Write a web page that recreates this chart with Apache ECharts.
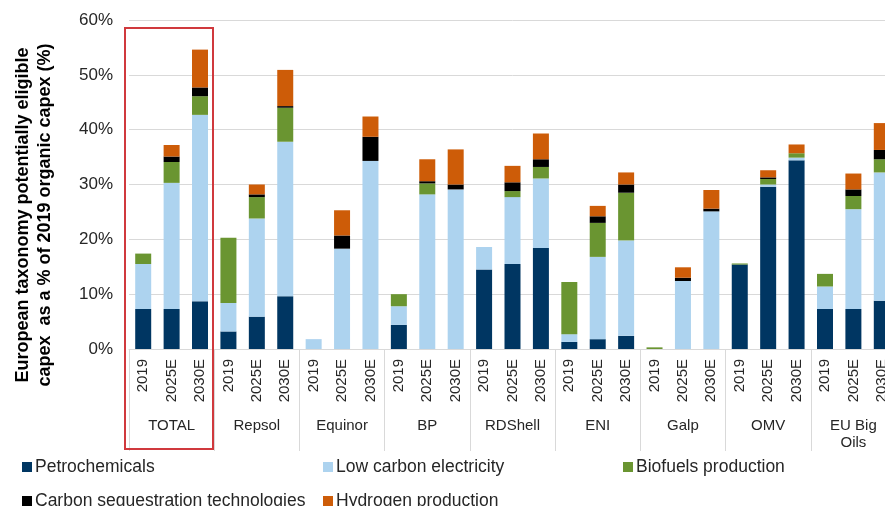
<!DOCTYPE html>
<html>
<head>
<meta charset="utf-8">
<script src="https://cdn.jsdelivr.net/npm/echarts@6/dist/echarts.min.js"></script>
<style>
  html, body { margin: 0; padding: 0; background: #fff; overflow: hidden; width: 885px; height: 506px; }
  #chart { width: 900px; height: 506px; }
</style>
</head>
<body>
<div id="chart"></div>
<script>
const groups = ['TOTAL', 'Repsol', 'Equinor', 'BP', 'RDShell', 'ENI', 'Galp', 'OMV', 'EU Big\nOils'];
const years = ['2019', '2025E', '2030E'];
const yTicks = [0, 10, 20, 30, 40, 50, 60];

const petrochemicals = [7.3, 7.3, 8.7, 3.2, 5.9, 9.6, 0, 0, 0, 4.4, 0, 0, 14.5, 15.5, 18.4, 1.3, 1.8, 2.4, 0, 0, 0, 15.4, 29.6, 34.4, 7.3, 7.3, 8.8];
const lowCarbonElectricity = [8.2, 23.0, 34.0, 5.2, 17.9, 28.2, 1.8, 18.3, 34.3, 3.4, 28.2, 29.1, 4.1, 12.2, 12.7, 1.4, 15.0, 17.4, 0, 12.4, 25.1, 0, 0.4, 0.5, 4.1, 18.2, 23.4];
const biofuels = [1.9, 3.8, 3.4, 11.9, 3.9, 6.2, 0, 0, 0, 2.2, 2.0, 0, 0, 1.1, 2.1, 9.5, 6.2, 8.7, 0.3, 0, 0, 0.2, 1.0, 0.8, 2.3, 2.4, 2.4];
const carbonSeq = [0, 1.0, 1.6, 0, 0.5, 0.3, 0, 2.4, 4.4, 0, 0.4, 0.9, 0, 1.6, 1.4, 0, 1.2, 1.5, 0, 0.6, 0.5, 0, 0.3, 0, 0, 1.2, 1.7];
const hydrogen = [0, 2.1, 6.9, 0, 1.8, 6.6, 0, 4.6, 3.7, 0, 4.0, 6.4, 0, 3.0, 4.7, 0, 1.9, 2.2, 0, 1.9, 3.4, 0, 1.3, 1.6, 0, 2.9, 4.9];

const seriesNames = ['Petrochemicals', 'Low carbon electricity', 'Biofuels production', 'Carbon sequestration technologies', 'Hydrogen production'];
const seriesData = [petrochemicals, lowCarbonElectricity, biofuels, carbonSeq, hydrogen];
const colors = ['#003662', '#ADD3EF', '#6A9531', '#000000', '#CD5C08'];

const cats = [];
groups.forEach((g, gi) => years.forEach(y => cats.push(gi + '|' + y)));

const FONT = '"Liberation Sans", Arial, sans-serif';
const TXT = '#262626';

const chart = echarts.init(document.getElementById('chart'), null, { renderer: 'canvas' });

const legendPos = [[22, 458], [323, 458], [623, 458], [22, 492], [323, 492]];
const legends = seriesNames.map((n, i) => ({
  data: [n],
  left: legendPos[i][0],
  top: legendPos[i][1],
  padding: 0,
  icon: 'rect',
  itemWidth: 10,
  itemHeight: 10,
  selectedMode: false,
  textStyle: { fontSize: 17.5, color: TXT, fontFamily: FONT, padding: [0, 0, 0, -2] }
}));

chart.setOption({
  animation: false,
  backgroundColor: '#ffffff',
  color: colors,
  textStyle: { fontFamily: FONT },
  legend: legends,
  grid: { left: 129, top: 20, width: 767, height: 329, containLabel: false },
  xAxis: [
    {
      type: 'category',
      data: cats,
      position: 'bottom',
      axisLine: { show: true, lineStyle: { color: '#D9D9D9', width: 1 } },
      axisTick: { show: false },
      axisLabel: {
        interval: 0, rotate: 90, margin: 10, fontSize: 15, color: TXT, fontFamily: FONT,
        formatter: v => v.split('|')[1]
      },
      splitLine: { show: false }
    },
    {
      type: 'category',
      data: groups,
      position: 'bottom',
      axisLine: { show: false },
      axisTick: { show: true, interval: 0, length: 102, lineStyle: { color: '#D9D9D9', width: 1 } },
      axisLabel: { interval: 0, margin: 68, fontSize: 15, color: TXT, fontFamily: FONT, lineHeight: 17, align: 'center' },
      splitLine: { show: false }
    }
  ],
  yAxis: {
    type: 'value',
    min: yTicks[0],
    max: yTicks[yTicks.length - 1],
    interval: 10,
    axisLine: { show: false },
    axisTick: { show: false },
    axisLabel: { formatter: '{value}%', fontSize: 17, color: TXT, margin: 16, fontFamily: FONT },
    splitLine: { lineStyle: { color: '#D9D9D9', width: 1 } }
  },
  series: seriesNames.map((n, i) => ({
    name: n,
    type: 'bar',
    stack: 'total',
    xAxisIndex: 0,
    barWidth: 16,
    data: seriesData[i],
    itemStyle: { color: colors[i] }
  })),
  graphic: [
    {
      type: 'text',
      x: 34, y: 215,
      rotation: Math.PI / 2,
      style: {
        text: 'European taxonomy potentially eligible\ncapex  as a % of 2019 organic capex (%)',
        font: 'bold 18px "Liberation Sans", Arial, sans-serif',
        align: 'center',
        verticalAlign: 'middle',
        lineHeight: 22,
        fill: '#000'
      }
    },
    {
      type: 'rect',
      shape: { x: 125, y: 28, width: 88, height: 421 },
      style: { fill: 'none', stroke: '#D0393D', lineWidth: 2 },
      z: 100
    }
  ]
});
</script>
</body>
</html>
